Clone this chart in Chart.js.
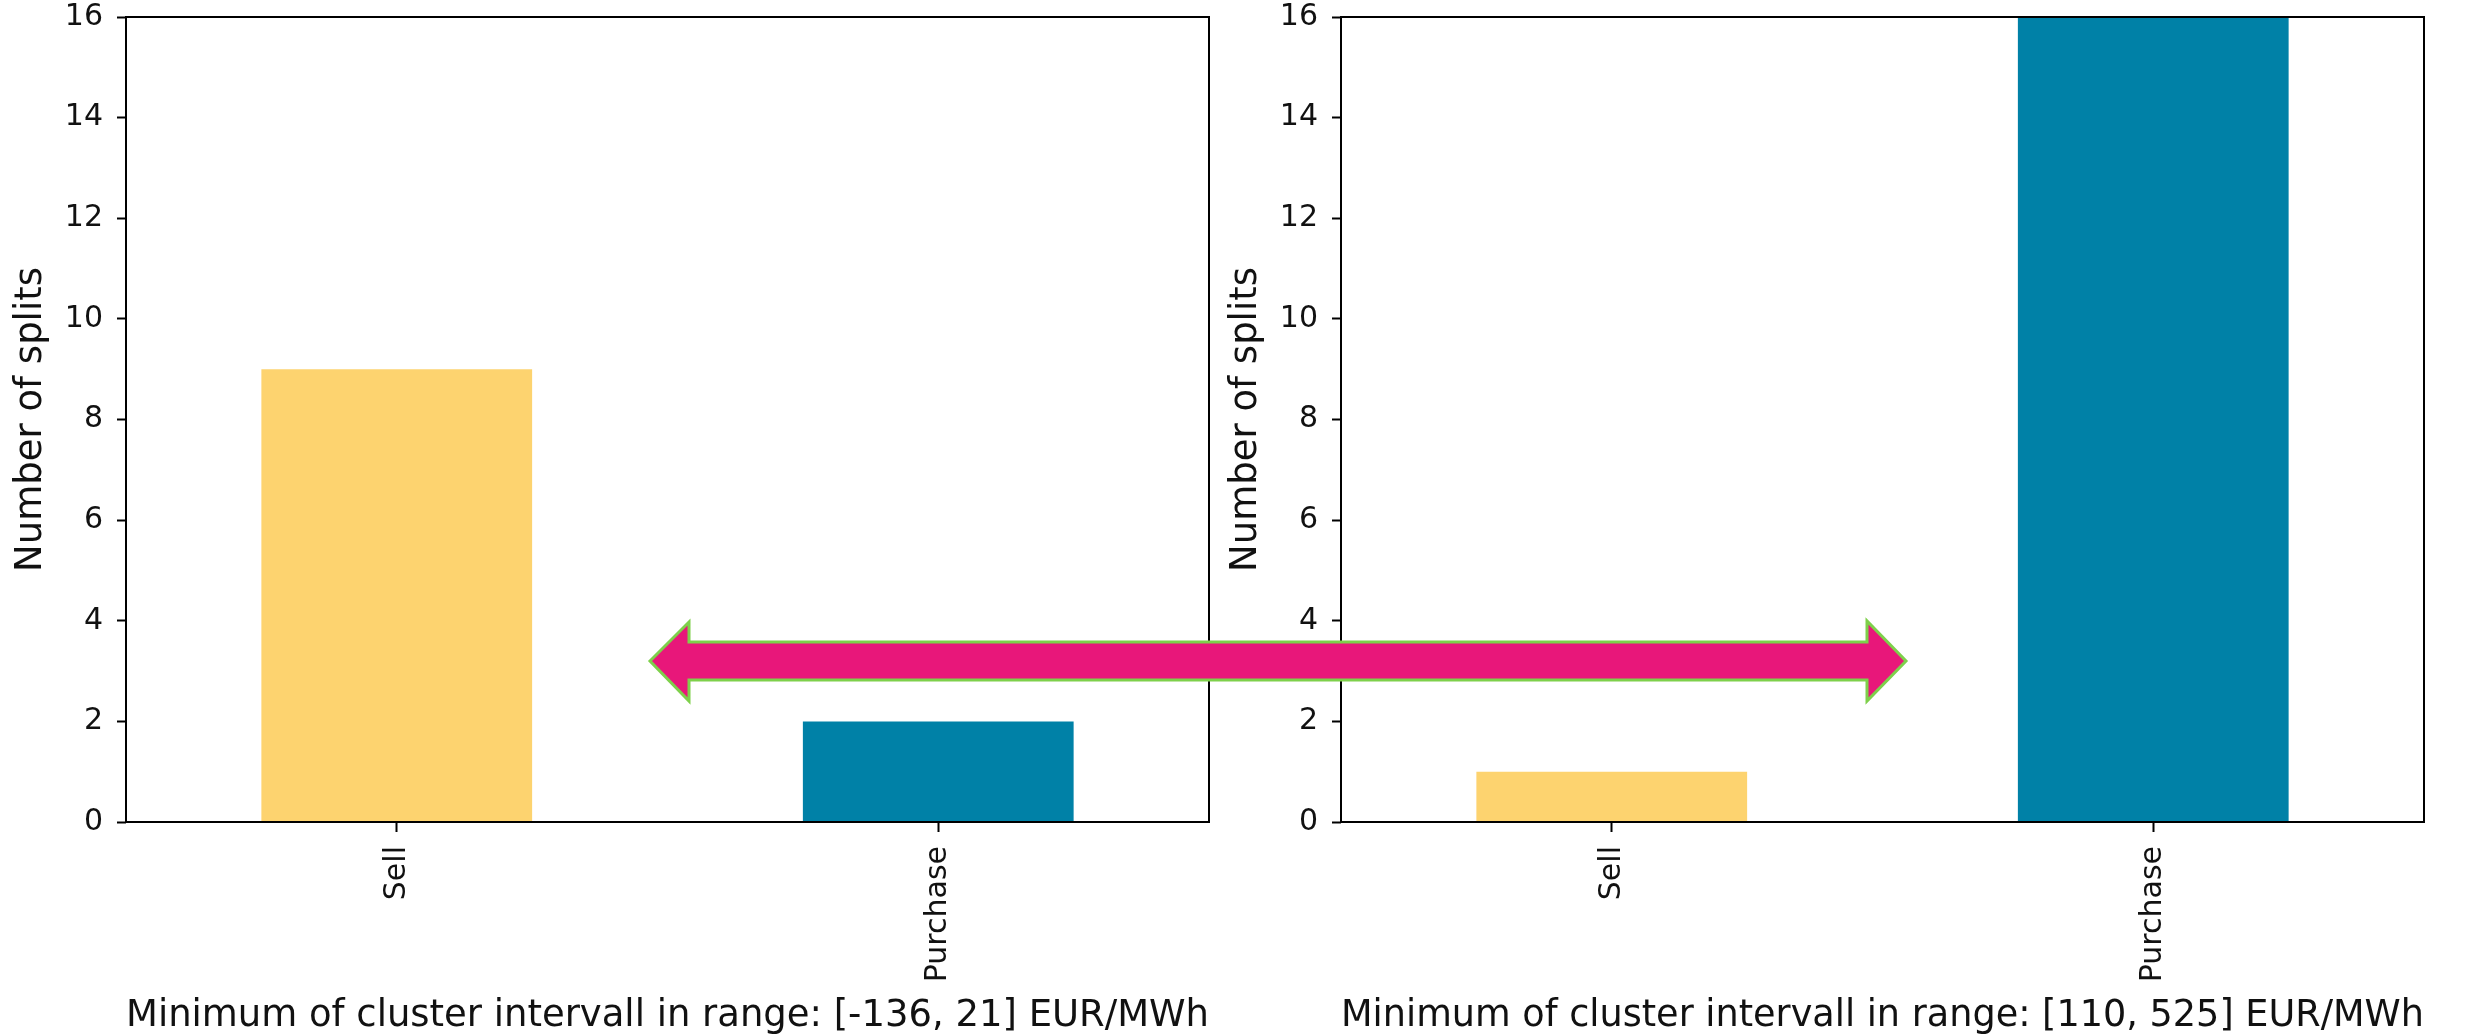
<!DOCTYPE html>
<html>
<head>
<meta charset="utf-8">
<script src="https://cdn.jsdelivr.net/npm/chart.js@4/dist/chart.umd.min.js"></script>
<style>
  html, body { margin: 0; padding: 0; background: #ffffff; }
  body { width: 2466px; height: 1036px; position: relative; overflow: hidden; }
  .box { position: absolute; top: 0; width: 1236px; height: 1036px; }
  #arrow { position: absolute; left: 0; top: 0; pointer-events: none; }
</style>
</head>
<body>
<div class="box" style="left:0px"><canvas id="c1"></canvas></div>
<div class="box" style="left:1215px"><canvas id="c2"></canvas></div>
<svg id="arrow" width="2466" height="1036">
  <polygon points="650,661 689,622 689,642 1867,642 1867,621 1906,661 1867,701 1867,680 689,680 689,701"
    fill="#E8177A" stroke="#7ED04B" stroke-width="3" stroke-linejoin="miter"/>
</svg>
<script>
const categories = ["Sell", "Purchase"];
const leftValues = [9, 2];
const rightValues = [1, 16];
const yTicks = [0, 2, 4, 6, 8, 10, 12, 14, 16];
const leftTitle = "Minimum of cluster intervall in range: [-136, 21] EUR/MWh";
const rightTitle = "Minimum of cluster intervall in range: [110, 525] EUR/MWh";
const yTitle = "Number of splits";
const barColors = ["#FDD36F", "#0081A7"];

const FONT = "'DejaVu Sans', sans-serif";

const frame = {
  id: 'frame',
  afterDraw(chart) {
    const {ctx, chartArea: a} = chart;
    ctx.save();
    ctx.strokeStyle = '#000';
    ctx.lineWidth = 2;
    ctx.strokeRect(a.left, a.top, a.right - a.left, a.bottom - a.top);
    ctx.restore();
  }
};

function makeChart(id, values, title) {
  return new Chart(document.getElementById(id), {
    type: 'bar',
    data: {
      labels: categories,
      datasets: [{
        data: values,
        backgroundColor: barColors,
        borderWidth: 0,
        categoryPercentage: 1.0,
        barPercentage: 0.5
      }]
    },
    options: {
      responsive: true,
      maintainAspectRatio: false,
      animation: false,
      devicePixelRatio: 1,
      layout: { padding: { top: 0, right: 27, bottom: 0, left: 0 } },
      plugins: { legend: { display: false }, tooltip: { enabled: false } },
      scales: {
        x: {
          afterFit(s) { s.height = 214; },
          grid: { display: true, drawOnChartArea: false, drawTicks: true, tickLength: 10, tickWidth: 2, tickColor: '#000', offset: false },
          border: { display: false },
          ticks: { color: '#111', font: { family: FONT, size: 30 }, minRotation: 90, maxRotation: 90, padding: 14, autoSkip: false },
          title: { display: true, text: title, color: '#111', font: { family: FONT, size: 37 }, padding: { top: 0, bottom: -3 } }
        },
        y: {
          min: 0, max: 16,
          afterFit(s) { s.width = 126; s.paddingTop = 17; s.paddingBottom = 17; },
          afterBuildTicks(s) { s.ticks = yTicks.map(v => ({ value: v })); },
          grid: { display: true, drawOnChartArea: false, drawTicks: true, tickLength: 9, tickWidth: 2, tickColor: '#000' },
          border: { display: false },
          ticks: { color: '#111', font: { family: FONT, size: 30, lineHeight: 1.15 }, padding: 14 },
          title: { display: true, text: yTitle, color: '#111', font: { family: FONT, size: 37 }, padding: { top: 9, bottom: 0 } }
        }
      }
    },
    plugins: [frame]
  });
}

makeChart('c1', leftValues, leftTitle);
makeChart('c2', rightValues, rightTitle);
</script>
</body>
</html>
